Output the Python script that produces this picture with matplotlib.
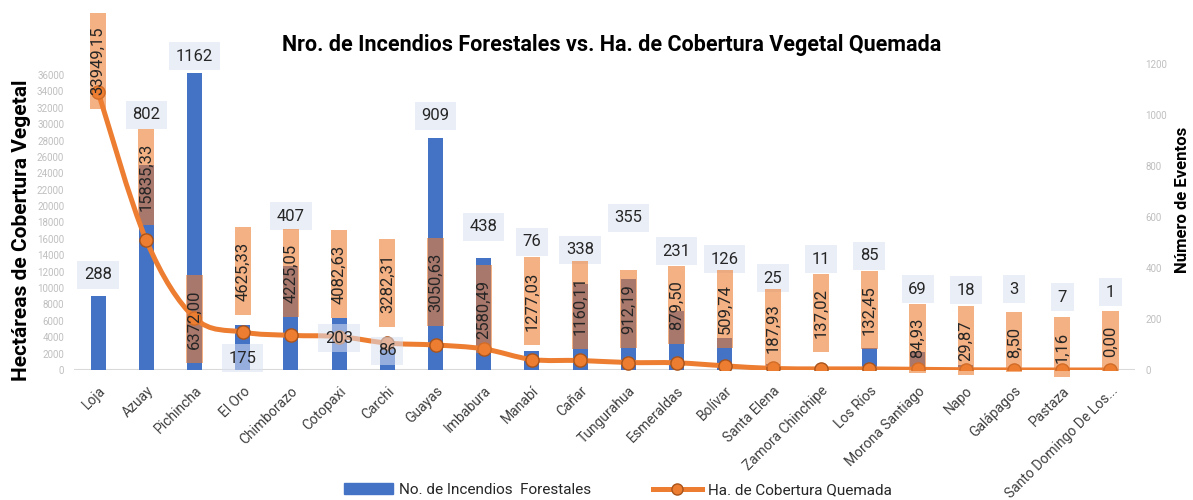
import numpy as np
import matplotlib.pyplot as plt
from matplotlib.path import Path
from matplotlib.patches import PathPatch, Patch
from matplotlib.lines import Line2D

plt.rcParams['font.family'] = ['Roboto', 'DejaVu Sans']

provincias = ['Loja', 'Azuay', 'Pichincha', 'El Oro', 'Chimborazo', 'Cotopaxi', 'Carchi',
              'Guayas', 'Imbabura', 'Manabí', 'Cañar', 'Tungurahua', 'Esmeraldas', 'Bolívar',
              'Santa Elena', 'Zamora Chinchipe', 'Los Ríos', 'Morona Santiago', 'Napo',
              'Galápagos', 'Pastaza', 'Santo Domingo De Los...']
incendios = [288, 802, 1162, 175, 407, 203, 86, 909, 438, 76, 338, 355, 231, 126,
             25, 11, 85, 69, 18, 3, 7, 1]
hectareas = [33949.15, 15835.33, 6372.00, 4625.33, 4225.05, 4082.63, 3282.31, 3050.63,
             2580.49, 1277.03, 1160.11, 912.19, 879.50, 509.74, 187.93, 137.02, 132.45,
             84.93, 29.87, 8.50, 1.16, 0.00]

# label centres, in axes fraction (as placed in the original)
pos_inc = [0.310, 0.832, 1.024, 0.039, 0.502, 0.104, 0.062, 0.829, 0.467, 0.418, 0.392,
           0.496, 0.388, 0.362, 0.300, 0.362, 0.372, 0.264, 0.261, 0.264, 0.238, 0.254]
pos_ha = [1.008, 0.630, 0.166, 0.323, 0.316, 0.313, 0.284, 0.287, 0.199, 0.225, 0.212,
          0.199, 0.212, 0.199, 0.137, 0.186, 0.196, 0.104, 0.095, 0.091, 0.075, 0.095]

AZUL = '#4472C4'
NARANJA = '#ED7D31'
x = np.arange(len(provincias))


def caja_alta(x0, y0, width, height, mutation_size):
    px = 0.85 * mutation_size
    py = 0.04 * mutation_size
    x0, y0 = x0 - px, y0 - py
    x1, y1 = x0 + width + 2 * px, y0 + height + 2 * py
    return Path([(x0, y0), (x1, y0), (x1, y1), (x0, y1), (x0, y0)], closed=True)


def suave(xs, ys):
    # bezier path through the points (smoothed line like the spreadsheet)
    p = np.column_stack([xs, ys]).astype(float)
    ext = np.vstack([p[0], p, p[-1]])
    verts = [p[0]]
    codes = [Path.MOVETO]
    for i in range(len(p) - 1):
        c1 = ext[i + 1] + (ext[i + 2] - ext[i]) / 6
        c2 = ext[i + 2] - (ext[i + 3] - ext[i + 1]) / 6
        verts += [c1, c2, ext[i + 2]]
        codes += [Path.CURVE4] * 3
    return Path(verts, codes)


fig = plt.figure(figsize=(11.93, 5.0), dpi=100)
ax = fig.add_axes([0.062, 0.26, 0.889, 0.613])
ax2 = ax.twinx()

# bars on the "events" axis (right side)
ax.bar(x, incendios, width=0.31, color=AZUL, zorder=2)
ax.set_ylim(0, 1200)
ax.set_xlim(-0.5, len(x) - 0.5)
ax.yaxis.tick_right()
ax.set_yticks(np.arange(0, 1201, 200))
ax.axhline(0, color='#D9D9D9', lw=1.5, zorder=1)

# line on the hectares axis (left side)
ax2.yaxis.tick_left()
ax2.set_ylim(0, 37400)
ax2.set_yticks(np.arange(0, 36001, 2000))
ax2.add_patch(PathPatch(suave(x, hectareas), fill=False, edgecolor=NARANJA, lw=3.6,
                        capstyle='round', zorder=2))
ax2.plot(x, hectareas, 'o', ms=9.5, mfc=NARANJA, mec='#A9541B', mew=1, zorder=3)

for a in (ax, ax2):
    for s in a.spines.values():
        s.set_visible(False)
    a.tick_params(axis='y', length=0, labelcolor='#BFBFBF', labelsize=7)
ax.tick_params(axis='y', pad=8)
ax2.tick_params(axis='y', pad=7)
ax.tick_params(axis='x', length=0, pad=10)
ax.set_xticks(x)
ax.set_xticklabels(provincias, rotation=45, ha='right', va='top', rotation_mode='anchor',
                   fontsize=10, color='#404040')

tr = ax.get_xaxis_transform()
for xi, v, yp in zip(x, incendios, pos_inc):
    ax2.text(xi, yp, f'{v}', transform=tr, ha='center', va='center', fontsize=12,
             color='#262626', zorder=4,
             bbox=dict(boxstyle='square,pad=0.4', fc='#D9E1F2', ec='none', alpha=0.55))
for xi, v, yp in zip(x, hectareas, pos_ha):
    ax2.text(xi, yp, f'{v:.2f}'.replace('.', ','), transform=tr, rotation=90,
             ha='center', va='center', fontsize=12, color='#262626', zorder=5,
             bbox=dict(boxstyle=caja_alta, fc=NARANJA, ec='none', alpha=0.6))

fig.text(0.513, 0.91, 'Nro. de Incendios Forestales vs. Ha. de Cobertura Vegetal Quemada',
         ha='center', va='center', fontsize=15.5, fontweight='bold')
fig.text(0.018, 0.54, 'Hectáreas de Cobertura Vegetal', rotation=90, ha='center', va='center',
         fontsize=15, fontweight='bold')
fig.text(0.991, 0.60, 'Número de Eventos', rotation=90, ha='center', va='center',
         fontsize=12, fontweight='bold')

handles = [Patch(color=AZUL),
           Line2D([], [], color=NARANJA, lw=3.6, marker='o', ms=8, mfc=NARANJA, mec='#A9541B')]
fig.legend(handles, ['No. de Incendios  Forestales', 'Ha. de Cobertura Quemada'],
           loc='center', bbox_to_anchor=(0.518, 0.02), ncol=2, frameon=False, fontsize=11,
           handlelength=3.2, handletextpad=0.4, columnspacing=4.0, labelcolor='#262626')

fig.savefig('out.png', dpi=100)
